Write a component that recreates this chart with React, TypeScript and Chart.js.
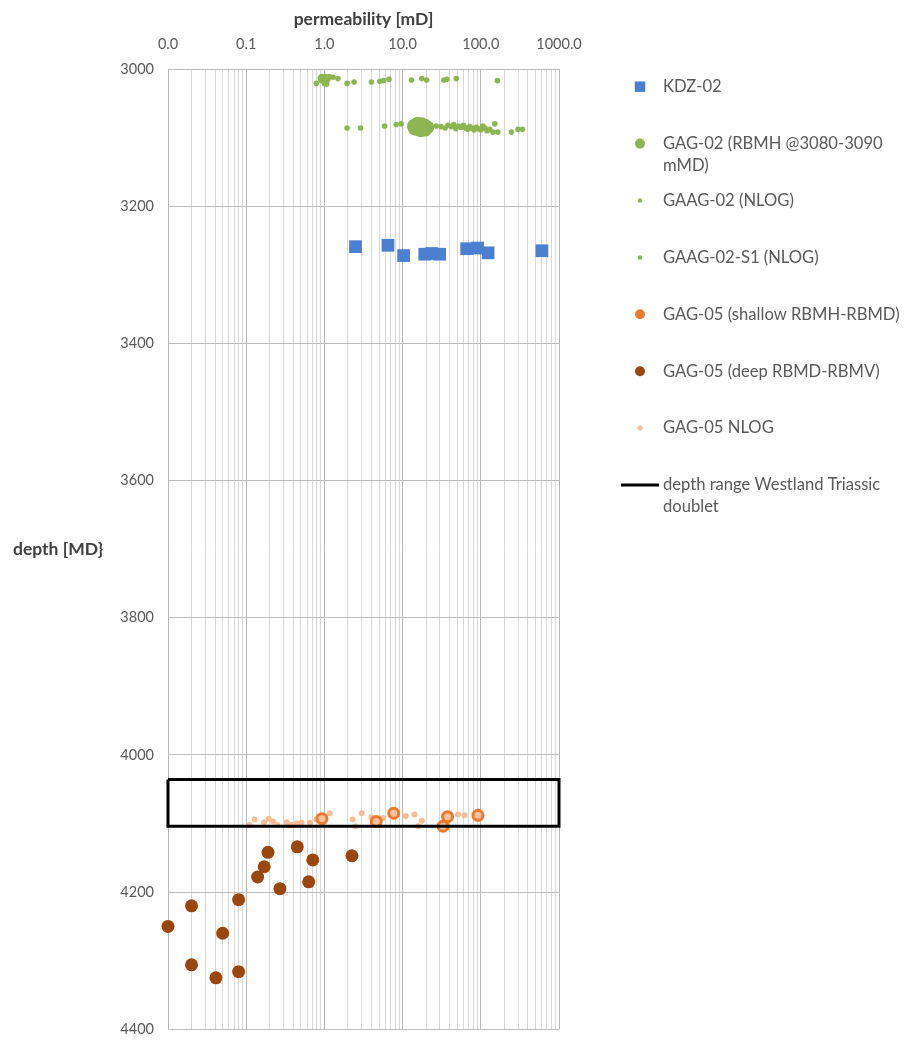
import React, { useEffect, useRef } from "react";
import { Chart, registerables } from "chart.js";

Chart.register(...registerables);

// ---------- axes ----------
const xDecades = [0.01, 0.1, 1, 10, 100, 1000];
const xTickLabels = ["0.0", "0.1", "1.0", "10.0", "100.0", "1000.0"];
const xMinorSteps = [2, 3, 4, 5, 6, 7, 8, 9];
const yMin = 3000;
const yMax = 4400;
const yStep = 200;
const xTitle = "permeability [mD]";
const yTitle = "depth [MD}";

// ---------- data ----------
const kdzPerm = [2.5, 6.5, 10.3, 19.2, 23.5, 29.8, 66, 91, 124, 605];
const kdzDepth = [3259, 3257, 3272, 3270, 3269, 3270, 3262, 3261, 3268, 3265];

const gag02Perm = [14, 15.5, 17.5, 19.5, 21, 15, 17, 19.5, 16, 14.2, 13.8, 18];
const gag02Depth = [3082, 3079, 3080, 3082, 3085, 3088, 3090, 3089, 3085, 3087, 3084, 3086];

const gaag02Perm = [0.79, 0.89, 0.92, 0.96, 0.98, 1.0, 1.03, 1.05, 1.07, 1.11, 1.15, 1.0, 0.9, 1.29, 1.49, 1.95, 2.4, 4.0, 5.1, 5.7, 6.7, 13.0, 17.6, 20.3, 33.7, 36.8, 48.6, 163];
const gaag02Depth = [3021, 3013, 3011, 3018, 3014, 3016, 3011, 3019, 3022, 3015, 3011, 3021, 3016, 3012, 3014, 3021, 3019, 3019, 3018, 3017, 3015, 3016, 3014, 3016, 3016, 3015, 3014, 3017];

const gaag02s1Perm = [1.95, 2.9, 5.9, 8.3, 9.6, 27, 31, 35, 38, 42, 45, 48, 52, 56, 60, 64, 68, 72, 77, 82, 88, 94, 100, 106, 113, 120, 130, 143, 151, 165, 246, 299, 342];
const gaag02s1Depth = [3086, 3086, 3083, 3081, 3080, 3083, 3084, 3086, 3082, 3084, 3081, 3087, 3083, 3085, 3082, 3086, 3088, 3084, 3086, 3089, 3085, 3087, 3089, 3083, 3086, 3090, 3088, 3092, 3080, 3092, 3092, 3088, 3088];

const shallowPerm = [0.93, 4.6, 7.7, 32.9, 37.6, 92];
const shallowDepth = [4093, 4097, 4085, 4104, 4090, 4088];

const deepPerm = [0.01, 0.02, 0.02, 0.041, 0.05, 0.08, 0.08, 0.14, 0.17, 0.19, 0.27, 0.45, 0.63, 0.71, 2.25];
const deepDepth = [4250, 4220, 4306, 4325, 4260, 4211, 4316, 4178, 4163, 4142, 4195, 4134, 4185, 4153, 4147];

const nlogPerm = [0.11, 0.128, 0.169, 0.194, 0.22, 0.25, 0.33, 0.34, 0.38, 0.44, 0.51, 0.65, 0.79, 1.17, 2.3, 2.5, 3.0, 4.0, 5.6, 11, 14.2, 17.6, 15.8, 40, 51, 62];
const nlogDepth = [4102, 4094, 4098, 4093, 4097, 4102, 4098, 4103, 4102, 4100, 4099, 4099, 4094, 4085, 4094, 4104, 4085, 4091, 4092, 4089, 4087, 4096, 4104, 4094, 4087, 4088];

const rangePerm = [0.01, 1000, 1000, 0.01, 0.01];
const rangeDepth = [4036, 4036, 4104, 4104, 4036];

const legendLabels = [
  "KDZ-02",
  "GAG-02 (RBMH @3080-3090\nmMD)",
  "GAAG-02 (NLOG)",
  "GAAG-02-S1 (NLOG)",
  "GAG-05 (shallow RBMH-RBMD)",
  "GAG-05 (deep RBMD-RBMV)",
  "GAG-05 NLOG",
  "depth range Westland Triassic\ndoublet",
];

const zip = (xs: number[], ys: number[]) => xs.map((x, i) => ({ x, y: ys[i] }));

const isDecade = (v: number) => xDecades.some((d) => Math.abs(d - v) / d < 1e-6);

const BLUE = "#4B80D0";
const GREEN = "#8DB552";
const ORANGE = "#EC7A2C";
const BROWN = "#9A470E";
const LIGHT = "#F7BE95";

type Marker = { kind: "rect" | "circle" | "line"; size: number; color: string };
const legendMarkers: Marker[] = [
  { kind: "rect", size: 10.5, color: BLUE },
  { kind: "circle", size: 10, color: GREEN },
  { kind: "circle", size: 4.5, color: GREEN },
  { kind: "circle", size: 4.5, color: GREEN },
  { kind: "circle", size: 10, color: ORANGE },
  { kind: "circle", size: 10, color: BROWN },
  { kind: "circle", size: 5, color: LIGHT },
  { kind: "line", size: 38, color: "#000000" },
];

const overlayPlugin = {
  id: "overlay",
  afterDraw(chart: any) {
    const ctx: CanvasRenderingContext2D = chart.ctx;
    const area = chart.chartArea;
    ctx.save();
    ctx.fillStyle = "#404040";
    ctx.font = "bold 17.5px Lato";
    ctx.textBaseline = "middle";
    ctx.textAlign = "center";
    ctx.fillText(xTitle, (area.left + area.right) / 2, 19);
    ctx.textAlign = "left";
    ctx.fillText(yTitle, 13, (area.top + area.bottom) / 2);

    // legend
    const markerX = 640;
    const textX = 663;
    const startY = 86.7;
    const gap = 56.9;
    ctx.font = "16.6px Lato";
    legendLabels.forEach((lab, i) => {
      const y = startY + i * gap;
      const m = legendMarkers[i];
      ctx.fillStyle = m.color;
      ctx.strokeStyle = m.color;
      if (m.kind === "rect") {
        ctx.fillRect(markerX - m.size / 2, y - m.size / 2, m.size, m.size);
      } else if (m.kind === "circle") {
        ctx.beginPath();
        ctx.arc(markerX, y, m.size / 2, 0, Math.PI * 2);
        ctx.fill();
      } else {
        ctx.lineWidth = 3;
        ctx.beginPath();
        ctx.moveTo(621, y);
        ctx.lineTo(659, y);
        ctx.stroke();
      }
      ctx.fillStyle = "#595959";
      lab.split("\n").forEach((line, j) => {
        ctx.fillText(line, textX, y + j * 22);
      });
    });
    ctx.restore();
  },
};

export default function App() {
  const ref = useRef<HTMLCanvasElement | null>(null);

  useEffect(() => {
    if (!ref.current) return;
    const xTickValues: number[] = [];
    xDecades.forEach((d, i) => {
      xTickValues.push(d);
      if (i < xDecades.length - 1) xMinorSteps.forEach((s) => xTickValues.push(d * s));
    });

    const chart = new Chart(ref.current, {
      type: "scatter",
      data: {
        datasets: [
          {
            label: legendLabels[7].replace("\n", " "),
            data: zip(rangePerm, rangeDepth),
            showLine: true,
            borderColor: "#000000",
            borderWidth: 3,
            pointRadius: 0,
            fill: false,
            clip: false,
            order: 0,
          } as any,
          {
            label: legendLabels[4],
            data: zip(shallowPerm, shallowDepth),
            pointRadius: 5,
            pointStyle: "circle",
            backgroundColor: "rgba(247,190,149,0.9)",
            borderColor: ORANGE,
            borderWidth: 3,
            clip: false,
            order: 1,
          },
          {
            label: legendLabels[6],
            data: zip(nlogPerm, nlogDepth),
            pointRadius: 3,
            backgroundColor: LIGHT,
            borderColor: LIGHT,
            borderWidth: 0,
            clip: false,
            order: 2,
          },
          {
            label: legendLabels[5],
            data: zip(deepPerm, deepDepth),
            pointRadius: 6.5,
            backgroundColor: BROWN,
            borderColor: BROWN,
            borderWidth: 0,
            clip: false,
            order: 3,
          },
          {
            label: legendLabels[0],
            data: zip(kdzPerm, kdzDepth),
            pointStyle: "rect",
            pointRadius: 9,
            backgroundColor: BLUE,
            borderColor: BLUE,
            borderWidth: 0,
            clip: false,
            order: 4,
          },
          {
            label: legendLabels[1].replace("\n", " "),
            data: zip(gag02Perm, gag02Depth),
            pointRadius: 6.5,
            backgroundColor: GREEN,
            borderColor: GREEN,
            borderWidth: 0,
            clip: false,
            order: 5,
          },
          {
            label: legendLabels[2],
            data: zip(gaag02Perm, gaag02Depth),
            pointRadius: 2.8,
            backgroundColor: GREEN,
            borderColor: GREEN,
            borderWidth: 0,
            clip: false,
            order: 6,
          },
          {
            label: legendLabels[3],
            data: zip(gaag02s1Perm, gaag02s1Depth),
            pointRadius: 2.8,
            backgroundColor: GREEN,
            borderColor: GREEN,
            borderWidth: 0,
            clip: false,
            order: 7,
          },
        ],
      },
      options: {
        responsive: false,
        animation: false,
        devicePixelRatio: 1,
        layout: { padding: { left: 0, top: 0, right: 912 - 559, bottom: 1052 - 1042 } },
        plugins: {
          legend: { display: false },
          title: { display: false },
          tooltip: { enabled: false },
        },
        scales: {
          x: {
            type: "logarithmic",
            position: "top",
            min: xDecades[0],
            max: xDecades[xDecades.length - 1],
            afterFit: (s: any) => {
              s.height = 69;
            },
            afterBuildTicks: (s: any) => {
              s.ticks = xTickValues.map((v) => ({ value: v }));
            },
            grid: {
              drawTicks: false,
              color: (c: any) => (c.tick && isDecade(c.tick.value) ? "#B8B8B8" : "#D8D8D8"),
              lineWidth: 1,
            },
            border: { display: true, color: "#B8B8B8" },
            ticks: {
              autoSkip: false,
              maxRotation: 0,
              padding: 16,
              color: "#595959",
              font: { family: "Lato", size: 14.5 },
              callback: (v: any) => {
                const i = xDecades.findIndex((d) => Math.abs(d - Number(v)) / d < 1e-6);
                return i >= 0 ? xTickLabels[i] : "";
              },
            },
          },
          y: {
            type: "linear",
            reverse: true,
            min: yMin,
            max: yMax,
            afterFit: (s: any) => {
              s.width = 168;
            },
            grid: { drawTicks: false, color: "#BDBDBD", lineWidth: 1 },
            border: { display: true, color: "#B8B8B8" },
            ticks: {
              stepSize: yStep,
              padding: 14,
              color: "#595959",
              font: { family: "Lato", size: 14.5 },
              callback: (v: any) => String(v),
            },
          },
        },
      },
      plugins: [overlayPlugin],
    });
    return () => chart.destroy();
  }, []);

  return (
    <div style={{ position: "fixed", left: 0, top: 0, width: 912, height: 1052, background: "#fff" }}>
      <canvas ref={ref} width={912} height={1052} style={{ width: 912, height: 1052, display: "block" }} />
    </div>
  );
}
